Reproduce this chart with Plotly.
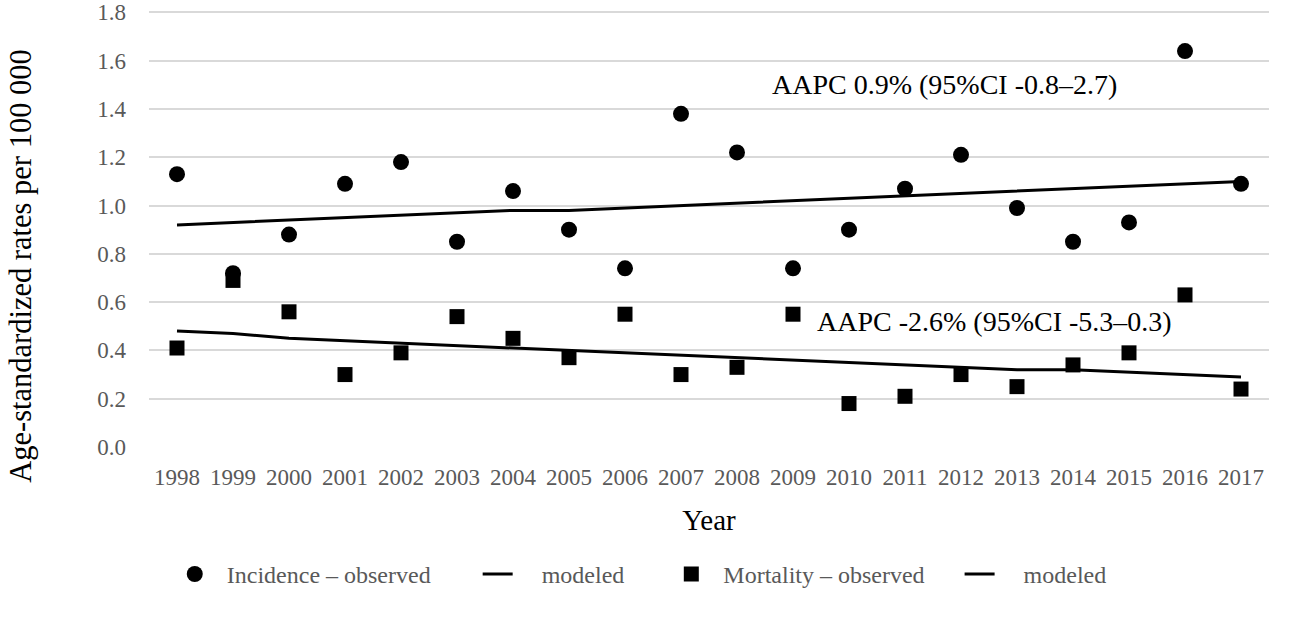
import plotly.graph_objs as go

# Data
years = [str(y) for y in range(1998, 2018)]

incidence_observed = [1.13, 0.72, 0.88, 1.09, 1.18, 0.85, 1.06, 0.90, 0.74, 1.38,
                      1.22, 0.74, 0.90, 1.07, 1.21, 0.99, 0.85, 0.93, 1.64, 1.09]
incidence_modeled = [0.92, 0.93, 0.94, 0.95, 0.96, 0.97, 0.98, 0.98, 0.99, 1.00,
                     1.01, 1.02, 1.03, 1.04, 1.05, 1.06, 1.07, 1.08, 1.09, 1.10]

mortality_observed = [0.41, 0.69, 0.56, 0.30, 0.39, 0.54, 0.45, 0.37, 0.55, 0.30,
                      0.33, 0.55, 0.18, 0.21, 0.30, 0.25, 0.34, 0.39, 0.63, 0.24]
mortality_modeled = [0.48, 0.47, 0.45, 0.44, 0.43, 0.42, 0.41, 0.40, 0.39, 0.38,
                     0.37, 0.36, 0.35, 0.34, 0.33, 0.32, 0.32, 0.31, 0.30, 0.29]

aapc_labels = ["AAPC 0.9% (95%CI -0.8\u20132.7)", "AAPC -2.6% (95%CI -5.3\u20130.3)"]

FONT = "Liberation Serif"
GREY = "#595959"
SP = "\u00a0"  # non-breaking space, used to spread the legend entries out


def legend_name(text, lead, trail):
    return SP * lead + text + SP * trail


fig = go.Figure()
fig.add_trace(go.Scatter(
    x=years, y=incidence_observed, mode="markers",
    name=legend_name("Incidence \u2013 observed", 2, 7),
    marker=dict(symbol="circle", size=16, color="black")
))
fig.add_trace(go.Scatter(
    x=years, y=incidence_modeled, mode="lines",
    name=legend_name("modeled", 4, 7),
    line=dict(color="black", width=3)
))
fig.add_trace(go.Scatter(
    x=years, y=mortality_observed, mode="markers",
    name=legend_name("Mortality \u2013 observed", 2, 5),
    marker=dict(symbol="square", size=15, color="black")
))
fig.add_trace(go.Scatter(
    x=years, y=mortality_modeled, mode="lines",
    name=legend_name("modeled", 4, 0),
    line=dict(color="black", width=3)
))

# AAPC labels placed in data coordinates (category index on x)
fig.add_annotation(x=13.7, y=1.5, xref="x", yref="y", text=aapc_labels[0],
                   showarrow=False, font=dict(family=FONT, size=28, color="black"))
fig.add_annotation(x=14.6, y=0.52, xref="x", yref="y", text=aapc_labels[1],
                   showarrow=False, font=dict(family=FONT, size=28, color="black"))

# y-axis title as rotated annotation so it can sit a little lower, like the original
fig.add_annotation(x=-0.115, y=0.415, xref="paper", yref="paper",
                   xanchor="center", yanchor="middle",
                   text="Age-standardized rates per 100 000", textangle=-90,
                   showarrow=False, font=dict(family=FONT, size=30.5, color="black"))

fig.update_layout(
    width=1299, height=625,
    margin=dict(l=149, r=30, t=10, b=178),
    plot_bgcolor="white", paper_bgcolor="white",
    font=dict(family=FONT, size=23, color=GREY),
    showlegend=True,
    legend=dict(orientation="h", x=0.023, xanchor="left", y=-0.24, yanchor="top",
                font=dict(family=FONT, size=24, color=GREY)),
    xaxis=dict(
        type="category", range=[-0.5, 19.5],
        showgrid=False, zeroline=False, showline=False, ticks="",
        automargin=False, ticklabelstandoff=14,
        tickfont=dict(family=FONT, size=23, color=GREY),
        title=dict(text="Year", font=dict(family=FONT, size=29, color="black"), standoff=20),
    ),
    yaxis=dict(
        # a bit above 1.8 so plotly keeps the top gridline (it drops lines at the very edge)
        range=[0, 1.81], dtick=0.2, tickformat=".1f",
        showgrid=True, gridcolor="#d9d9d9", gridwidth=2, zeroline=False, showline=False,
        ticks="", automargin=False, ticklabelstandoff=22, ticklabeloverflow="allow",
        tickfont=dict(family=FONT, size=23, color=GREY),
    ),
)

# drop the default 8px body margin so the figure sits at the page corner
fig.write_html("out.html", config={"displayModeBar": False},
               post_script="document.body.style.margin = '0';")
